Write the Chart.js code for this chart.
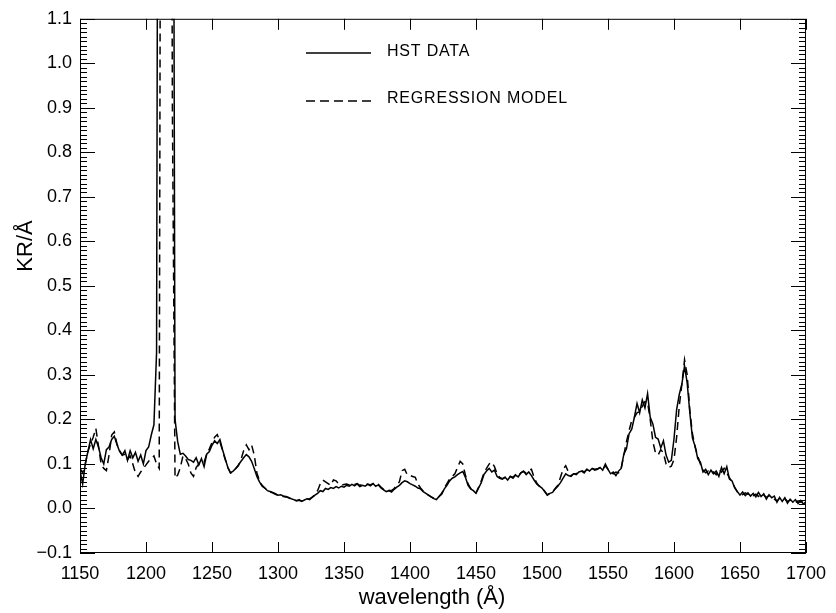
<!DOCTYPE html>
<html>
<head>
<meta charset="utf-8">
<title>HST spectrum vs regression model</title>
<script src="https://cdn.jsdelivr.net/npm/chart.js@4.4.1/dist/chart.umd.min.js"></script>
<style>
  html, body { margin: 0; padding: 0; background: #fff; }
  #wrap { width: 836px; height: 613px; position: relative; }
</style>
</head>
<body>
<div id="wrap"><canvas id="spectrum"></canvas></div>
<script>
// wavelength grid (Å), 2 Å sampling
const wavelengths = [
  1150, 1152, 1154, 1156, 1158, 1160, 1162, 1164, 1166, 1168,
  1170, 1172, 1174, 1176, 1178, 1180, 1182, 1184, 1186, 1188,
  1190, 1192, 1194, 1196, 1198, 1200, 1202, 1204, 1206, 1208,
  1210, 1212, 1214, 1216, 1218, 1220, 1222, 1224, 1226, 1228,
  1230, 1232, 1234, 1236, 1238, 1240, 1242, 1244, 1246, 1248,
  1250, 1252, 1254, 1256, 1258, 1260, 1262, 1264, 1266, 1268,
  1270, 1272, 1274, 1276, 1278, 1280, 1282, 1284, 1286, 1288,
  1290, 1292, 1294, 1296, 1298, 1300, 1302, 1304, 1306, 1308,
  1310, 1312, 1314, 1316, 1318, 1320, 1322, 1324, 1326, 1328,
  1330, 1332, 1334, 1336, 1338, 1340, 1342, 1344, 1346, 1348,
  1350, 1352, 1354, 1356, 1358, 1360, 1362, 1364, 1366, 1368,
  1370, 1372, 1374, 1376, 1378, 1380, 1382, 1384, 1386, 1388,
  1390, 1392, 1394, 1396, 1398, 1400, 1402, 1404, 1406, 1408,
  1410, 1412, 1414, 1416, 1418, 1420, 1422, 1424, 1426, 1428,
  1430, 1432, 1434, 1436, 1438, 1440, 1442, 1444, 1446, 1448,
  1450, 1452, 1454, 1456, 1458, 1460, 1462, 1464, 1466, 1468,
  1470, 1472, 1474, 1476, 1478, 1480, 1482, 1484, 1486, 1488,
  1490, 1492, 1494, 1496, 1498, 1500, 1502, 1504, 1506, 1508,
  1510, 1512, 1514, 1516, 1518, 1520, 1522, 1524, 1526, 1528,
  1530, 1532, 1534, 1536, 1538, 1540, 1542, 1544, 1546, 1548,
  1550, 1552, 1554, 1556, 1558, 1560, 1562, 1564, 1566, 1568,
  1570, 1572, 1574, 1576, 1578, 1580, 1582, 1584, 1586, 1588,
  1590, 1592, 1594, 1596, 1598, 1600, 1602, 1604, 1606, 1608,
  1610, 1612, 1614, 1616, 1618, 1620, 1622, 1624, 1626, 1628,
  1630, 1632, 1634, 1636, 1638, 1640, 1642, 1644, 1646, 1648,
  1650, 1652, 1654, 1656, 1658, 1660, 1662, 1664, 1666, 1668,
  1670, 1672, 1674, 1676, 1678, 1680, 1682, 1684, 1686, 1688,
  1690, 1692, 1694, 1696, 1698, 1700
];

// measured brightness, KR/Å (Lyman alpha runs far off scale)
const hstData = [
  0.085, 0.055, 0.100, 0.128, 0.155, 0.134, 0.155, 0.138, 0.114, 0.100,
  0.132, 0.138, 0.155, 0.162, 0.144, 0.128, 0.120, 0.130, 0.108, 0.130,
  0.114, 0.126, 0.106, 0.120, 0.100, 0.130, 0.138, 0.165, 0.188, 0.350,
  3.0, 3.0, 3.0, 3.0, 3.0, 2.5, 0.200, 0.150, 0.122, 0.124,
  0.118, 0.110, 0.108, 0.104, 0.114, 0.098, 0.112, 0.094, 0.122, 0.128,
  0.142, 0.152, 0.146, 0.155, 0.132, 0.112, 0.092, 0.080, 0.084, 0.090,
  0.098, 0.106, 0.114, 0.121, 0.116, 0.106, 0.090, 0.072, 0.060, 0.050,
  0.046, 0.040, 0.038, 0.036, 0.033, 0.030, 0.031, 0.028, 0.027, 0.025,
  0.022, 0.020, 0.017, 0.020, 0.016, 0.019, 0.022, 0.020, 0.026, 0.030,
  0.034, 0.040, 0.038, 0.045, 0.043, 0.047, 0.045, 0.049, 0.046, 0.050,
  0.048, 0.052, 0.050, 0.054, 0.051, 0.055, 0.049, 0.052, 0.050, 0.054,
  0.051, 0.056, 0.050, 0.053, 0.046, 0.042, 0.038, 0.040, 0.037, 0.043,
  0.048, 0.052, 0.058, 0.062, 0.060, 0.056, 0.053, 0.050, 0.046, 0.044,
  0.038, 0.034, 0.030, 0.026, 0.022, 0.020, 0.027, 0.032, 0.044, 0.052,
  0.062, 0.068, 0.071, 0.076, 0.080, 0.083, 0.070, 0.052, 0.044, 0.040,
  0.034, 0.046, 0.058, 0.076, 0.084, 0.090, 0.082, 0.086, 0.072, 0.068,
  0.066, 0.070, 0.064, 0.072, 0.068, 0.075, 0.071, 0.080, 0.084, 0.076,
  0.082, 0.074, 0.064, 0.055, 0.050, 0.046, 0.038, 0.030, 0.034, 0.036,
  0.044, 0.050, 0.058, 0.068, 0.078, 0.074, 0.072, 0.078, 0.076, 0.082,
  0.084, 0.080, 0.088, 0.084, 0.090, 0.086, 0.088, 0.092, 0.086, 0.100,
  0.088, 0.078, 0.082, 0.074, 0.084, 0.090, 0.122, 0.134, 0.168, 0.178,
  0.205, 0.236, 0.215, 0.244, 0.226, 0.258, 0.205, 0.190, 0.160, 0.156,
  0.136, 0.152, 0.120, 0.104, 0.108, 0.156, 0.222, 0.256, 0.280, 0.320,
  0.282, 0.215, 0.158, 0.140, 0.112, 0.104, 0.082, 0.088, 0.076, 0.086,
  0.078, 0.084, 0.072, 0.092, 0.078, 0.094, 0.066, 0.062, 0.046, 0.038,
  0.030, 0.037, 0.029, 0.035, 0.028, 0.034, 0.026, 0.036, 0.027, 0.033,
  0.021, 0.031, 0.024, 0.028, 0.014, 0.025, 0.016, 0.024, 0.012, 0.021,
  0.014, 0.020, 0.011, 0.018, 0.010, 0.015
];

// regression model on the same grid
const modelData = [
  0.090, 0.080, 0.100, 0.128, 0.145, 0.160, 0.180, 0.140, 0.100, 0.090,
  0.085, 0.120, 0.165, 0.172, 0.145, 0.130, 0.120, 0.122, 0.110, 0.118,
  0.100, 0.080, 0.072, 0.082, 0.090, 0.098, 0.106, 0.112, 0.118, 0.100,
  0.090, 3.0, 3.0, 3.0, 3.0, 0.9, 0.068, 0.075, 0.092, 0.118,
  0.112, 0.100, 0.080, 0.072, 0.092, 0.100, 0.106, 0.104, 0.122, 0.134,
  0.148, 0.160, 0.166, 0.150, 0.130, 0.110, 0.092, 0.080, 0.082, 0.090,
  0.096, 0.110, 0.130, 0.143, 0.132, 0.143, 0.120, 0.080, 0.062, 0.052,
  0.046, 0.040, 0.037, 0.035, 0.032, 0.030, 0.029, 0.027, 0.026, 0.024,
  0.021, 0.019, 0.018, 0.018, 0.017, 0.019, 0.021, 0.022, 0.025, 0.030,
  0.040, 0.055, 0.064, 0.060, 0.056, 0.052, 0.064, 0.062, 0.055, 0.052,
  0.054, 0.055, 0.053, 0.056, 0.054, 0.056, 0.052, 0.054, 0.053, 0.055,
  0.053, 0.056, 0.052, 0.054, 0.048, 0.043, 0.040, 0.041, 0.040, 0.045,
  0.052, 0.060, 0.085, 0.088, 0.075, 0.074, 0.072, 0.070, 0.055, 0.046,
  0.039, 0.034, 0.030, 0.026, 0.023, 0.021, 0.027, 0.034, 0.046, 0.056,
  0.066, 0.072, 0.078, 0.092, 0.106, 0.100, 0.075, 0.055, 0.045, 0.040,
  0.035, 0.048, 0.062, 0.080, 0.090, 0.100, 0.104, 0.094, 0.078, 0.070,
  0.067, 0.070, 0.066, 0.072, 0.070, 0.076, 0.073, 0.080, 0.083, 0.080,
  0.086, 0.088, 0.070, 0.057, 0.050, 0.046, 0.039, 0.031, 0.034, 0.037,
  0.045, 0.052, 0.070, 0.088, 0.096, 0.082, 0.074, 0.078, 0.078, 0.082,
  0.085, 0.082, 0.088, 0.085, 0.090, 0.088, 0.089, 0.092, 0.088, 0.096,
  0.088, 0.082, 0.078, 0.082, 0.080, 0.090, 0.120, 0.150, 0.175, 0.198,
  0.205, 0.215, 0.218, 0.230, 0.240, 0.238, 0.200, 0.150, 0.125, 0.120,
  0.132, 0.125, 0.100, 0.092, 0.095, 0.110, 0.160, 0.230, 0.280, 0.334,
  0.300, 0.220, 0.168, 0.138, 0.118, 0.100, 0.086, 0.080, 0.084, 0.078,
  0.082, 0.076, 0.088, 0.082, 0.090, 0.080, 0.069, 0.060, 0.048, 0.037,
  0.034, 0.031, 0.035, 0.032, 0.034, 0.029, 0.032, 0.027, 0.033, 0.030,
  0.025, 0.029, 0.026, 0.021, 0.017, 0.023, 0.019, 0.021, 0.016, 0.019,
  0.016, 0.013, 0.017, 0.014, 0.015, 0.012
];

const xTicks = [1150, 1200, 1250, 1300, 1350, 1400, 1450, 1500, 1550, 1600, 1650, 1700];
const yTicks = [-0.1, 0.0, 0.1, 0.2, 0.3, 0.4, 0.5, 0.6, 0.7, 0.8, 0.9, 1.0, 1.1];
const yMinorStep = 0.01;

const seriesNames = ["HST DATA", "REGRESSION MODEL"];
const DASH = [8, 5];
const FONT = "'Liberation Sans', Arial, Helvetica, sans-serif";

document.addEventListener("DOMContentLoaded", () => {
  const canvas = document.getElementById("spectrum");

  // inward ticks on all four sides, plus the box frame
  const frameTicks = {
    id: "frameTicks",
    afterDraw(chart) {
      const { ctx, chartArea: a } = chart;
      const x = chart.scales.x;
      const y = chart.scales.y;
      ctx.save();
      ctx.strokeStyle = "#000";
      ctx.lineWidth = 1;
      ctx.strokeRect(a.left + 0.5, a.top + 0.5, a.right - a.left - 1, a.bottom - a.top - 1);

      ctx.beginPath();
      xTicks.forEach((v) => {
        const px = Math.round(x.getPixelForValue(v)) + 0.5;
        ctx.moveTo(px, a.bottom);
        ctx.lineTo(px, a.bottom - 11);
        ctx.moveTo(px, a.top);
        ctx.lineTo(px, a.top + 11);
      });
      const nMinor = Math.round((yTicks[yTicks.length - 1] - yTicks[0]) / yMinorStep);
      for (let i = 0; i <= nMinor; i++) {
        const v = yTicks[0] + i * yMinorStep;
        const py = Math.round(y.getPixelForValue(v)) + 0.5;
        const len = i % 10 === 0 ? 15 : 7;
        ctx.moveTo(a.left, py);
        ctx.lineTo(a.left + len, py);
        ctx.moveTo(a.right, py);
        ctx.lineTo(a.right - len, py);
      }
      ctx.stroke();

      // axis titles
      ctx.fillStyle = "#000";
      ctx.font = "22px " + FONT;
      ctx.textAlign = "center";
      ctx.textBaseline = "middle";
      ctx.fillText("wavelength (Å)", 432, 598);

      ctx.save();
      ctx.translate(26, 246);
      ctx.rotate(-Math.PI / 2);
      ctx.font = "22px " + FONT;
      ctx.fillText("KR/Å", 0, 0);
      ctx.restore();

      // legend
      ctx.lineWidth = 1.5;
      ctx.beginPath();
      ctx.moveTo(306, 53);
      ctx.lineTo(371, 53);
      ctx.stroke();
      ctx.setLineDash([9, 5]);
      ctx.beginPath();
      ctx.moveTo(306, 101);
      ctx.lineTo(371, 101);
      ctx.stroke();
      ctx.setLineDash([]);

      ctx.font = "16px " + FONT;
      ctx.textAlign = "left";
      ctx.letterSpacing = "0.8px";
      ctx.fillText(seriesNames[0], 387, 52);
      ctx.fillText(seriesNames[1], 387, 99);
      ctx.restore();
    },
  };

  new Chart(canvas.getContext("2d"), {
    type: "line",
    data: {
      datasets: [
        {
          label: seriesNames[0],
          data: wavelengths.map((w, i) => ({ x: w, y: hstData[i] })),
          borderColor: "#000",
          borderWidth: 1.5,
          pointRadius: 0,
          tension: 0,
        },
        {
          label: seriesNames[1],
          data: wavelengths.map((w, i) => ({ x: w, y: modelData[i] })),
          borderColor: "#000",
          borderWidth: 1.5,
          borderDash: DASH,
          pointRadius: 0,
          tension: 0,
        },
      ],
    },
    options: {
      responsive: true,
      maintainAspectRatio: false,
      animation: false,
      layout: { padding: { top: 10, right: 25, left: 0, bottom: 0 } },
      plugins: { legend: { display: false }, tooltip: { enabled: false } },
      scales: {
        x: {
          type: "linear",
          min: 1150,
          max: 1700,
          afterFit: (s) => { s.height = 60; },
          afterBuildTicks: (s) => { s.ticks = xTicks.map((v) => ({ value: v })); },
          grid: { display: false, drawTicks: false },
          border: { display: false },
          ticks: {
            autoSkip: false,
            maxRotation: 0,
            padding: 10,
            color: "#000",
            font: { family: FONT, size: 18 },
            callback: (v) => String(v),
          },
        },
        y: {
          min: -0.1,
          max: 1.1,
          afterFit: (s) => { s.width = 80; },
          afterBuildTicks: (s) => { s.ticks = yTicks.map((v) => ({ value: v })); },
          grid: { display: false, drawTicks: false },
          border: { display: false },
          ticks: {
            autoSkip: false,
            padding: 8,
            color: "#000",
            font: { family: FONT, size: 18 },
            callback: (v) => {
              const t = (Math.abs(v) < 1e-9 ? 0 : v).toFixed(1);
              return t.replace("-", "\u2212");
            },
          },
        },
      },
    },
    plugins: [frameTicks],
  });
});
</script>
</body>
</html>
